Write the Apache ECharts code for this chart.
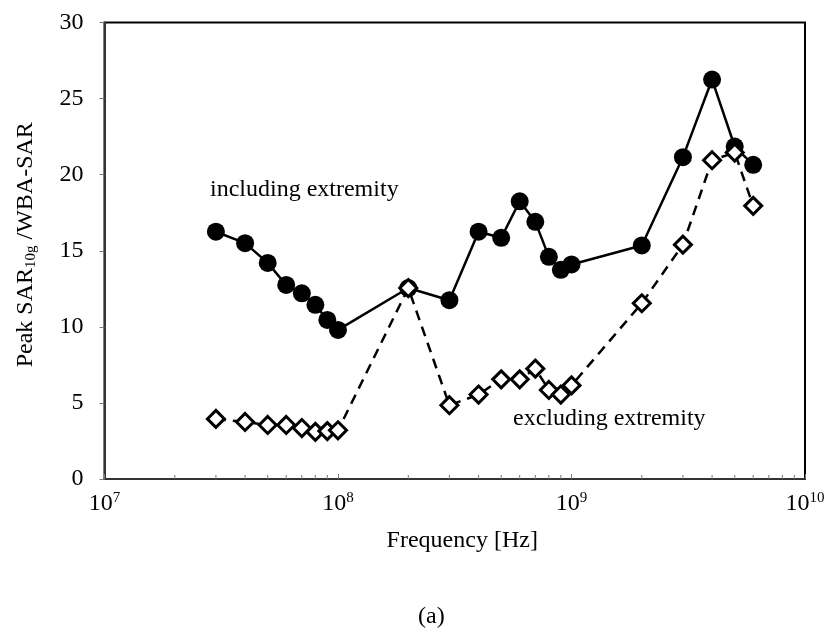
<!DOCTYPE html>
<html>
<head>
<meta charset="utf-8">
<script src="https://cdn.jsdelivr.net/npm/echarts@6/dist/echarts.min.js"></script>
<style>
html,body{margin:0;padding:0;background:#fff;}
#chart{width:828px;height:637px;}
</style>
</head>
<body>
<div id="chart"></div>
<script>
// Frequencies [Hz]
const freqs = [3e7, 4e7, 5e7, 6e7, 7e7, 8e7, 9e7, 1e8, 2e8, 3e8, 4e8, 5e8, 6e8, 7e8, 8e8, 9e8, 1e9, 2e9, 3e9, 4e9, 5e9, 6e9];
// Peak SAR10g / WBA-SAR, including extremity
const includingVals = [16.25, 15.5, 14.2, 12.75, 12.2, 11.45, 10.45, 9.8, 12.55, 11.75, 16.25, 15.85, 18.25, 16.9, 14.6, 13.75, 14.1, 15.35, 21.15, 26.25, 21.85, 20.65];
// Peak SAR10g / WBA-SAR, excluding extremity
const excludingVals = [3.95, 3.75, 3.55, 3.55, 3.35, 3.1, 3.15, 3.2, 12.55, 4.85, 5.55, 6.55, 6.55, 7.25, 5.85, 5.55, 6.15, 11.55, 15.4, 20.95, 21.45, 17.95];
// Minor tick positions of the log axis
const minorTicks = [2e7,3e7,4e7,5e7,6e7,7e7,8e7,9e7,2e8,3e8,4e8,5e8,6e8,7e8,8e8,9e8,2e9,3e9,4e9,5e9,6e9,7e9,8e9,9e9];
const yTicks = [0, 5, 10, 15, 20, 25, 30];

const FONT = '"Liberation Serif", "Times New Roman", serif';
const FS = 24;
const chart = echarts.init(document.getElementById('chart'), null, {renderer: 'canvas'});

const option = {
  animation: false,
  backgroundColor: '#fff',
  grid: {left: 104.5, right: 23, top: 22.5, bottom: 158, show: true, borderColor: '#000', borderWidth: 2, containLabel: false},
  xAxis: {
    type: 'log', logBase: 10, min: 1e7, max: 1e10,
    name: 'Frequency [Hz]', nameLocation: 'middle', nameGap: 50,
    nameTextStyle: {fontFamily: FONT, fontSize: FS, color: '#000', padding: [0, 0, 0, 15]},
    axisLine: {show: true, lineStyle: {color: '#333', width: 2}},
    axisTick: {show: true, inside: true, length: 5, lineStyle: {color: '#777', width: 1}},
    splitLine: {show: false},
    axisLabel: {
      margin: 12,
      formatter: function (v) {
        const e = Math.round(Math.log10(v));
        return '{b|10}{s|' + e + '}';
      },
      rich: {
        b: {fontFamily: FONT, fontSize: FS, color: '#000', lineHeight: 26},
        s: {fontFamily: FONT, fontSize: 15, color: '#000', verticalAlign: 'top', lineHeight: 26, padding: [0, 0, 10, 0]}
      }
    }
  },
  yAxis: {
    type: 'value', min: 0, max: 30, interval: 5,
    data: yTicks,
    name: 'Peak SAR{sub|10g} /WBA-SAR', nameLocation: 'middle', nameGap: 66, nameRotate: 90,
    nameTextStyle: {
      fontFamily: FONT, fontSize: FS, color: '#000', padding: [0, 0, 0, 12],
      rich: {sub: {fontFamily: FONT, fontSize: 15, color: '#000', verticalAlign: 'bottom', padding: [10, 0, 0, 0]}}
    },
    axisLine: {show: true, lineStyle: {color: '#333', width: 2}},
    axisTick: {show: true, inside: false, length: 5, lineStyle: {color: '#777', width: 1}},
    splitLine: {show: false},
    axisLabel: {margin: 21, fontFamily: FONT, fontSize: FS, color: '#000'}
  },
  graphic: [
    {type: 'text', left: 210, top: 178, style: {text: 'including extremity', font: FS + 'px ' + FONT, fill: '#000'}},
    {type: 'text', left: 513, top: 407, style: {text: 'excluding extremity', font: FS + 'px ' + FONT, fill: '#000'}},
    {type: 'text', left: 418, top: 605, style: {text: '(a)', font: FS + 'px ' + FONT, fill: '#000'}}
  ],
  series: [
    {
      type: 'custom', silent: true, z: 1,
      data: minorTicks.map(f => [f, 0]),
      renderItem: function (params, api) {
        const p = api.coord([api.value(0), 0]);
        return {type: 'line', shape: {x1: p[0], y1: p[1], x2: p[0], y2: p[1] - 4}, style: {stroke: '#777', lineWidth: 1}};
      }
    },
    {
      name: 'including extremity', type: 'line', z: 3,
      data: freqs.map((f, i) => [f, includingVals[i]]),
      symbol: 'circle', symbolSize: 18,
      itemStyle: {color: '#000', borderColor: '#000', borderWidth: 0},
      lineStyle: {color: '#000', width: 2.5, type: 'solid'}
    },
    {
      name: 'excluding extremity', type: 'line', z: 4,
      data: freqs.map((f, i) => [f, excludingVals[i]]),
      symbol: 'diamond', symbolSize: [17, 17],
      itemStyle: {color: '#fff', borderColor: '#000', borderWidth: 3},
      lineStyle: {color: '#000', width: 2.5, type: [10, 7]}
    }
  ]
};
chart.setOption(option);
</script>
</body>
</html>
